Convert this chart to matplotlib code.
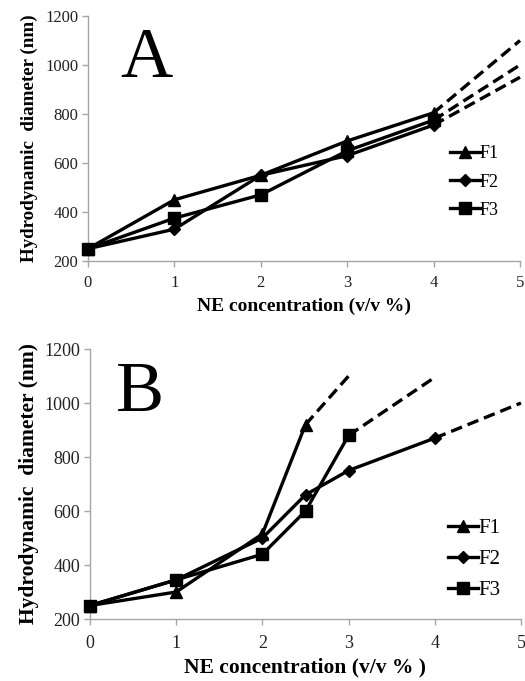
import matplotlib
matplotlib.use("Agg")
import matplotlib.pyplot as plt
from matplotlib.lines import Line2D

plt.rcParams['font.family'] = ['Liberation Serif', 'DejaVu Serif']

series = ["F1", "F2", "F3"]
markers = ["^", "D", "s"]
msizes = [8, 6, 9]

# Panel A
a_x = [0, 1, 2, 3, 4]
a_f1 = [250, 450, 550, 690, 805]
a_f2 = [250, 330, 550, 630, 755]
a_f3 = [250, 375, 470, 650, 775]
a_ext_x = [4, 5]
a_f1_ext = [805, 1100]
a_f2_ext = [755, 950]
a_f3_ext = [775, 1000]

# Panel B
b_f1_x = [0, 1, 2, 2.5]
b_f1 = [250, 300, 515, 920]
b_f2_x = [0, 1, 2, 2.5, 3, 4]
b_f2 = [250, 345, 500, 660, 750, 870]
b_f3_x = [0, 1, 2, 2.5, 3]
b_f3 = [250, 345, 440, 600, 880]
b_f1_ext_x = [2.5, 3]
b_f1_ext = [920, 1100]
b_f2_ext_x = [4, 5]
b_f2_ext = [870, 1000]
b_f3_ext_x = [3, 4]
b_f3_ext = [880, 1095]

xticks = [0, 1, 2, 3, 4, 5]
yticks = [200, 400, 600, 800, 1000, 1200]

W, H = 525, 681
fig = plt.figure(figsize=(W / 100, H / 100), dpi=100)

axA = fig.add_axes([88 / W, 1 - 261 / H, 432 / W, 245 / H])
axB = fig.add_axes([90 / W, 1 - 619 / H, 431 / W, 270 / H])

lw = 2.4
dash = (0, (3.5, 1.8))


def style(ax, letter, lx, ly, tick_fs, xpad, lab_fs, xlabel, xlabpad, ylabpad):
    ax.set_xlim(0, 5)
    ax.set_ylim(200, 1200)
    ax.set_xticks(xticks)
    ax.set_yticks(yticks)
    for s in ["top", "right"]:
        ax.spines[s].set_visible(False)
    for s in ["left", "bottom"]:
        ax.spines[s].set_color("#a6a6a6")
        ax.spines[s].set_linewidth(1.0)
    ax.tick_params(axis="both", direction="out", length=4, width=1.0,
                   color="#a6a6a6", labelsize=tick_fs, labelcolor="#222222")
    ax.tick_params(axis="x", pad=xpad)
    ax.tick_params(axis="y", pad=3)
    ax.set_xlabel(xlabel, fontsize=lab_fs[0], fontweight="bold", labelpad=xlabpad)
    ax.set_ylabel("Hydrodynamic  diameter (nm)", fontsize=lab_fs[1], fontweight="bold",
                  labelpad=ylabpad)
    ax.text(lx, ly, letter, fontsize=52, transform=ax.transAxes, va="baseline", ha="left")
    handles = [Line2D([], [], color="black", lw=lw, marker=m, markersize=ms)
               for m, ms in zip(markers, msizes)]
    return handles


# Panel A
for y, m, ms in zip([a_f1, a_f2, a_f3], markers, msizes):
    axA.plot(a_x, y, color="black", lw=lw, marker=m, markersize=ms, clip_on=False, zorder=3)
for y in [a_f1_ext, a_f2_ext, a_f3_ext]:
    axA.plot(a_ext_x, y, color="black", lw=lw, linestyle=dash, clip_on=False)
hA = style(axA, "A", 0.075, 0.75, 12, 6, (14, 13.7), "NE concentration (v/v %)", 5, 5)
axA.legend(hA, series, loc="center left", bbox_to_anchor=(0.838, 0.322), frameon=False,
           fontsize=13, handlelength=1.65, handletextpad=0.0, labelspacing=0.62,
           borderpad=0.0, borderaxespad=0.0)

# Panel B
for xs, y, m, ms in zip([b_f1_x, b_f2_x, b_f3_x], [b_f1, b_f2, b_f3], markers, msizes):
    axB.plot(xs, y, color="black", lw=lw, marker=m, markersize=ms, clip_on=False, zorder=3)
for xs, y in zip([b_f1_ext_x, b_f2_ext_x, b_f3_ext_x], [b_f1_ext, b_f2_ext, b_f3_ext]):
    axB.plot(xs, y, color="black", lw=lw, linestyle=dash, clip_on=False)
hB = style(axB, "B", 0.06, 0.77, 13, 7.5, (15.5, 15.5), "NE concentration (v/v % )", 4, 4)
axB.legend(hB, series, loc="center left", bbox_to_anchor=(0.831, 0.222), frameon=False,
           fontsize=15, handlelength=1.45, handletextpad=0.0, labelspacing=0.55,
           borderpad=0.0, borderaxespad=0.0)

fig.savefig("out.png", dpi=100)
